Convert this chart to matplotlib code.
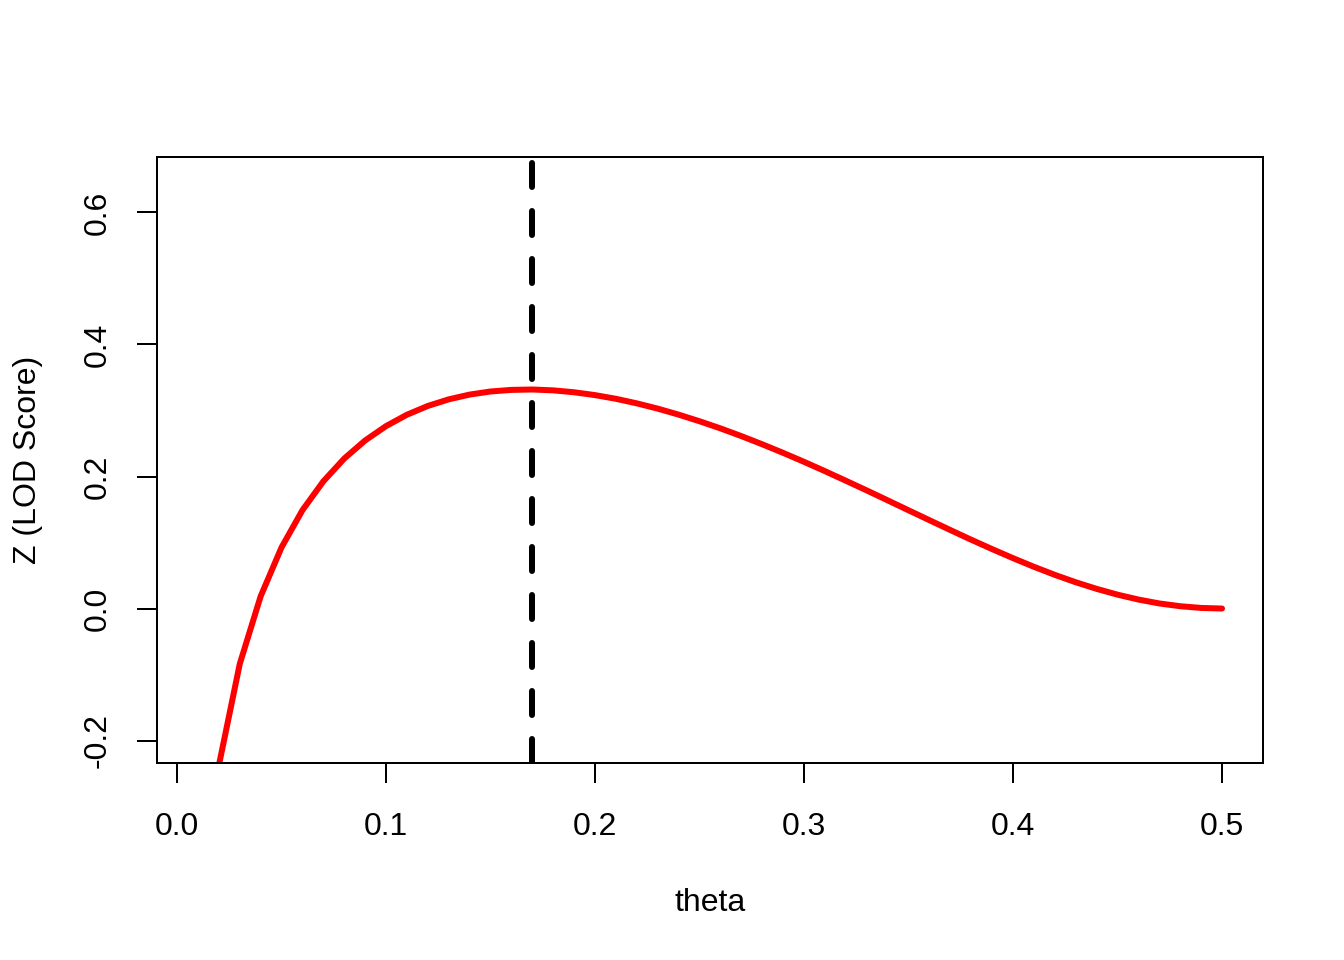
# LOD score curve for theta grid
import numpy as np
import matplotlib.pyplot as plt

plt.rcParams['font.family'] = ['Liberation Sans', 'DejaVu Sans']

theta = [0.01, 0.02, 0.03, 0.04, 0.05, 0.06, 0.07, 0.08, 0.09, 0.10,
         0.11, 0.12, 0.13, 0.14, 0.15, 0.16, 0.17, 0.18, 0.19, 0.20,
         0.21, 0.22, 0.23, 0.24, 0.25, 0.26, 0.27, 0.28, 0.29, 0.30,
         0.31, 0.32, 0.33, 0.34, 0.35, 0.36, 0.37, 0.38, 0.39, 0.40,
         0.41, 0.42, 0.43, 0.44, 0.45, 0.46, 0.47, 0.48, 0.49, 0.50]
lod = [-0.5167, -0.2377, -0.0839, 0.0186, 0.0927, 0.1490, 0.1927, 0.2272, 0.2546, 0.2764,
       0.2936, 0.3069, 0.3169, 0.3241, 0.3288, 0.3312, 0.3318, 0.3305, 0.3276, 0.3233,
       0.3177, 0.3108, 0.3028, 0.2937, 0.2837, 0.2729, 0.2612, 0.2488, 0.2358, 0.2222,
       0.2081, 0.1936, 0.1789, 0.1639, 0.1488, 0.1338, 0.1189, 0.1042, 0.0900, 0.0763,
       0.0632, 0.0510, 0.0398, 0.0298, 0.0210, 0.0136, 0.0077, 0.0035, 0.0009, 0.0000]
theta_max = 0.17
xticks = [0.0, 0.1, 0.2, 0.3, 0.4, 0.5]
yticks = [-0.2, 0.0, 0.2, 0.4, 0.6]

fig = plt.figure(figsize=(7, 5), dpi=192)
ax = fig.add_axes([157/1344, 1-763/960, (1263-157)/1344, (763-157)/960])

ax.plot(theta, lod, color='red', lw=2.25, solid_capstyle='round', solid_joinstyle='round')
ax.axvline(theta_max, color='black', lw=2.25, linestyle=(0, (4, 4)), dash_capstyle='round')

ax.set_xlim(0.01 - 0.0196, 0.5 + 0.0196)
ax.set_ylim(-0.2 - 0.034, 0.65 + 0.034)

ax.set_xticks(xticks)
ax.set_xticklabels(["%.1f" % v for v in xticks])
ax.set_yticks(yticks)
ax.set_yticklabels(["%.1f" % v for v in yticks], rotation=90, va='center')
ax.tick_params(direction='out', length=7.5, width=0.75, labelsize=12)
ax.tick_params(axis='x', pad=11)
ax.tick_params(axis='y', pad=9)
for s in ax.spines.values():
    s.set_linewidth(0.75)

ax.set_xlabel("theta", fontsize=12, labelpad=17)
ax.set_ylabel("Z (LOD Score)", fontsize=12, labelpad=15)

fig.savefig("out.png", dpi=192)
